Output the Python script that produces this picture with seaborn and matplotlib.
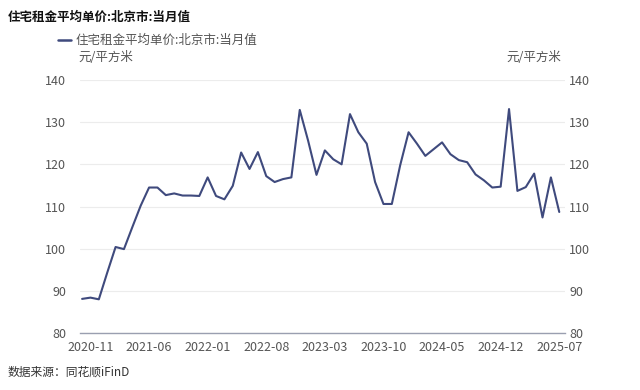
import pandas as pd
import seaborn as sns
import matplotlib.pyplot as plt

# monthly values, 2020-10 .. 2025-07
months = pd.period_range('2020-10', '2025-07', freq='M').strftime('%Y-%m').tolist()
rent = [88.1, 88.4, 88.0, 94.3, 100.4, 99.9, 105.1, 110.2, 114.5, 114.5,
        112.7, 113.1, 112.6, 112.6, 112.5, 116.9, 112.5, 111.7, 114.9, 122.8,
        118.9, 122.9, 117.2, 115.8, 116.5, 116.9, 132.9, 125.6, 117.5, 123.3,
        121.2, 120.0, 131.9, 127.6, 124.9, 115.8, 110.6, 110.6, 119.8, 127.6,
        124.9, 122.0, 123.6, 125.2, 122.4, 121.0, 120.5, 117.6, 116.2, 114.5,
        114.7, 133.1, 113.7, 114.6, 117.8, 107.4, 116.9, 108.7]
tick_labels = ['2020-11', '2021-06', '2022-01', '2022-08', '2023-03',
               '2023-10', '2024-05', '2024-12', '2025-07']
yticks = [80, 90, 100, 110, 120, 130, 140]

title = '住宅租金平均单价:北京市:当月值'
unit = '元/平方米'
source = '数据来源：同花顺iFinD'

df = pd.DataFrame({'idx': range(len(months)), 'month': months, 'value': rent})

sns.set_theme(style='white')
plt.rcParams['font.family'] = ['Noto Sans CJK SC', 'DejaVu Sans']

line_color = '#3f4a7d'
text_gray = '#555555'

fig = plt.figure(figsize=(6.4, 3.9), dpi=100)
ax = fig.add_axes([0.125, 0.146, 0.758, 0.649])
sns.lineplot(data=df, x='idx', y='value', ax=ax, color=line_color, linewidth=1.5)

ax.set_ylim(80, 140)
ax.set_xlim(-0.25, 57.7)
ax.set_yticks(yticks)
ax.grid(axis='y', color='#ececec', linewidth=0.8)
ax.set_axisbelow(True)
tick_pos = [months.index(t) for t in tick_labels]
ax.set_xticks(tick_pos)
ax.set_xticklabels(tick_labels)
ax.set_xlabel('')
ax.set_ylabel('')
for s in ['top', 'right', 'left']:
    ax.spines[s].set_visible(False)
ax.spines['bottom'].set_color('#9a9fb0')
ax.spines['bottom'].set_linewidth(1.0)
ax.tick_params(axis='both', length=0, labelsize=9, colors=text_gray)
ax.tick_params(axis='x', pad=6)
ax.tick_params(axis='y', pad=10)

ax2 = ax.twinx()
ax2.set_ylim(80, 140)
ax2.set_yticks(yticks)
for s in ['top', 'right', 'left', 'bottom']:
    ax2.spines[s].set_visible(False)
ax2.tick_params(axis='y', length=0, labelsize=9, colors=text_gray, pad=3)
ax2.grid(False)

fig.text(0.012, 0.955, title, fontsize=9, fontweight='bold', color='#111111', va='center')
fig.lines.append(plt.Line2D([0.091, 0.111], [0.897, 0.897], transform=fig.transFigure,
                            color=line_color, linewidth=1.8))
fig.text(0.118, 0.897, title, fontsize=9, color=text_gray, va='center')
fig.text(0.122, 0.853, unit, fontsize=9, color=text_gray, va='center')
fig.text(0.877, 0.853, unit, fontsize=9, color=text_gray, va='center', ha='right')
fig.text(0.012, 0.046, source, fontsize=8.5, color='#333333', va='center')

plt.savefig('out.png', dpi=100)
